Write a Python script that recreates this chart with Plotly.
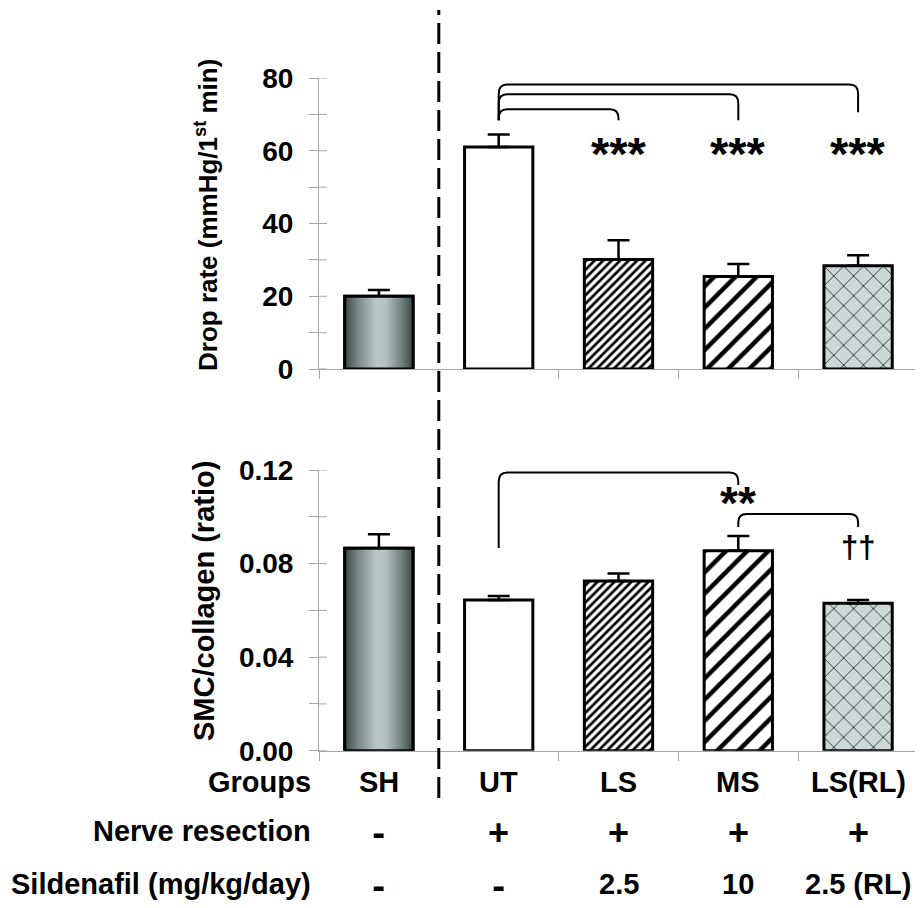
import plotly.graph_objects as go

# ---------------- data ----------------
groups = ["SH", "UT", "LS", "MS", "LS(RL)"]
drop_rate = [20.0, 61.0, 30.1, 25.4, 28.4]
drop_err = [1.7, 3.5, 5.3, 3.5, 2.9]
smc_ratio = [0.0865, 0.0644, 0.0725, 0.0855, 0.0630]
smc_err = [0.0060, 0.0017, 0.0033, 0.0063, 0.0014]
nerve_resection = ["-", "+", "+", "+", "+"]
sildenafil = ["-", "-", "2.5", "10", "2.5 (RL)"]
top_labels = [0, 20, 40, 60, 80]
top_ticks = [0, 10, 20, 30, 40, 50, 60, 70, 80]
bot_labels = [0, 0.04, 0.08, 0.12]
bot_ticks = [0, 0.02, 0.04, 0.06, 0.08, 0.10, 0.12]
top_stars = ["", "", "***", "***", "***"]
# brackets: (from idx, to idx, left bottom, top, right bottom)
top_brackets = [(1, 2, 68.4, 71.4, 68.4), (1, 3, 68.4, 75.5, 68.4), (1, 4, 68.4, 78.2, 70.6)]
bot_brackets = [(1, 3, 0.0867, 0.1189, 0.1136), (3, 4, 0.0956, 0.1012, 0.0956)]
bot_marks = [(3, 0.1059, "**"), (4, 0.0867, "††")]

# ---------------- styling ----------------
FONT = "Liberation Sans, Arial, sans-serif"
W, H = 923, 908
OFF = 8  # page body margin offset
BAR_W = 0.57
pat_shape = ["", "", "/", "/", "x"]
pat_size = [8, 8, 6, 15, 14]
pat_sol = [0.3, 0.3, 0.45, 0.3, 0.1]
fill_col = ["rgba(0,0,0,0)", "white", "white", "white", "#cdd9d9"]
grad = [[0, "#3b4848"], [0.2, "#7b8a89"], [0.45, "#b8c7c5"], [0.6, "#b3c2c0"], [0.82, "#758483"], [1, "#3a4646"]]

def px_x(p):
    return (p - OFF) / W

def px_y(p):
    return (H - (p - OFF)) / H

fig = go.Figure()

def add_panel(vals, errs, xa, ya):
    # gradient fill for the SH bar
    i = 0
    fig.add_trace(go.Scatter(
        x=[i - BAR_W / 2, i + BAR_W / 2, i + BAR_W / 2, i - BAR_W / 2, i - BAR_W / 2],
        y=[0, 0, vals[i], vals[i], 0],
        fill="toself", mode="lines",
        line=dict(color="black", width=3),
        fillgradient=dict(type="horizontal", colorscale=grad),
        hoverinfo="skip", showlegend=False, xaxis=xa, yaxis=ya))
    for i in range(len(vals)):
        marker = dict(color=fill_col[i], line=dict(color="black", width=3))
        if pat_shape[i]:
            marker["pattern"] = dict(shape=pat_shape[i], size=pat_size[i], solidity=pat_sol[i],
                                     fgcolor="black", bgcolor=fill_col[i], fgopacity=1)
        fig.add_trace(go.Bar(
            x=[i], y=[vals[i]], width=BAR_W, marker=marker,
            error_y=dict(type="data", symmetric=False, array=[errs[i]], arrayminus=[0],
                         color="black", thickness=2.5, width=11),
            showlegend=False, xaxis=xa, yaxis=ya))

add_panel(drop_rate, drop_err, "x", "y")
add_panel(smc_ratio, smc_err, "x2", "y2")

xdom = [px_x(319), px_x(918)]
top_dom = [px_y(369), px_y(78)]
bot_dom = [px_y(750.7), px_y(470)]
AX = "#a6a6a6"
bounds = [-0.5, 0.5, 1.5, 2.5, 3.5, 4.5]

xcommon = dict(domain=xdom, range=[-0.5, 4.5], tickvals=bounds, ticks="outside", ticklen=9,
               tickcolor=AX, showticklabels=False, showline=True, linecolor=AX, linewidth=1,
               showgrid=False, zeroline=False, automargin=False)
ycommon = dict(ticks="outside", ticklen=9, tickcolor=AX, showline=True, linecolor=AX, linewidth=1,
               showgrid=False, zeroline=False, ticklabelstandoff=10, automargin=False,
               tickfont=dict(family=FONT, size=28, color="black", weight="bold"))

fig.update_layout(
    width=W, height=H, margin=dict(l=0, r=0, t=0, b=0, autoexpand=False),
    paper_bgcolor="white", plot_bgcolor="white", barmode="overlay",
    xaxis=dict(anchor="y", **xcommon),
    xaxis2=dict(anchor="y2", **xcommon),
    yaxis=dict(anchor="x", domain=top_dom, range=[0, 80], tickvals=top_labels,
               minor=dict(dtick=10, tick0=0, ticks="outside", ticklen=9, tickcolor=AX, showgrid=False),
               **ycommon),
    yaxis2=dict(anchor="x2", domain=bot_dom, range=[0, 0.12], tickvals=bot_labels, tickformat=".2f",
                minor=dict(dtick=0.02, tick0=0, ticks="outside", ticklen=9, tickcolor=AX, showgrid=False),
                **ycommon),
)

shapes = []
# inner halves of the y ticks (ticks cross the axis line)
for t in top_ticks:
    shapes.append(dict(type="line", xref="paper", yref="y", x0=px_x(319), x1=px_x(327), y0=t, y1=t,
                       line=dict(color=AX, width=1)))
for t in bot_ticks:
    shapes.append(dict(type="line", xref="paper", yref="y2", x0=px_x(319), x1=px_x(327), y0=t, y1=t,
                       line=dict(color=AX, width=1)))

def bracket(i0, i1, yl, yt, yr, xref, yref, ry):
    rx = 0.07
    path = (f"M {i0},{yl} L {i0},{yt - ry} Q {i0},{yt} {i0 + rx},{yt} "
            f"L {i1 - rx},{yt} Q {i1},{yt} {i1},{yt - ry} L {i1},{yr}")
    return dict(type="path", path=path, xref=xref, yref=yref, line=dict(color="black", width=2))

for b in top_brackets:
    shapes.append(bracket(*b, "x", "y", 2.5))
for k, b in enumerate(bot_brackets):
    shapes.append(bracket(*b, "x2", "y2", 0.004 if k == 0 else 0.0035))

# dashed separator between SH and the other groups
shapes.append(dict(type="line", xref="x", yref="paper", x0=0.5, x1=0.5, y0=px_y(798), y1=px_y(10),
                   line=dict(color="black", width=3, dash="21px,8px"), layer="above"))
fig.update_layout(shapes=shapes)

ann = []
for i, s in enumerate(top_stars):
    if s:
        ann.append(dict(x=i, y=59.3, xref="x", yref="y", text=s, showarrow=False,
                        font=dict(family=FONT, size=47, color="black", weight="bold"),
                        xanchor="center", yanchor="middle"))
for i, yv, s in bot_marks:
    ann.append(dict(x=i, y=yv, xref="x2", yref="y2", text=s, showarrow=False,
                    font=dict(family=FONT, size=46 if s == "**" else 31, color="black", weight="bold"),
                    xanchor="center", yanchor="middle"))

row_font = dict(family=FONT, size=29, color="black", weight="bold")
sign_font = {"-": dict(family="DejaVu Sans", size=32, color="black", weight="bold"),
             "+": dict(family=FONT, size=36, color="black", weight="bold")}
sign_y = {"-": 3, "+": 1}
rows = [("Groups", groups, 782), ("Nerve resection", nerve_resection, 831),
        ("Sildenafil (mg/kg/day)", sildenafil, 884)]
for label, vals, ypx in rows:
    ann.append(dict(x=px_x(313), y=px_y(ypx), xref="paper", yref="paper", text=label, showarrow=False,
                    xanchor="right", yanchor="middle", font=row_font))
    for i, v in enumerate(vals):
        f = row_font
        dy = 0
        if v in sign_font:
            f = sign_font[v]
            dy = sign_y[v]
        ann.append(dict(x=i, y=px_y(ypx + dy), xref="x2", yref="paper", text=v, showarrow=False,
                        xanchor="center", yanchor="middle", font=f))

ann.append(dict(x=px_x(206), y=px_y(215), xref="paper", yref="paper", textangle=-90,
                xanchor="center", yanchor="middle",
                text="Drop rate (mmHg/1<sup>st</sup> min)", showarrow=False,
                font=dict(family=FONT, size=26, color="black", weight="bold")))
ann.append(dict(x=px_x(204), y=px_y(601), xref="paper", yref="paper", textangle=-90,
                xanchor="center", yanchor="middle",
                text="SMC/collagen (ratio)", showarrow=False,
                font=dict(family=FONT, size=29, color="black", weight="bold")))
fig.update_layout(annotations=ann)

fig.write_html("out.html")
